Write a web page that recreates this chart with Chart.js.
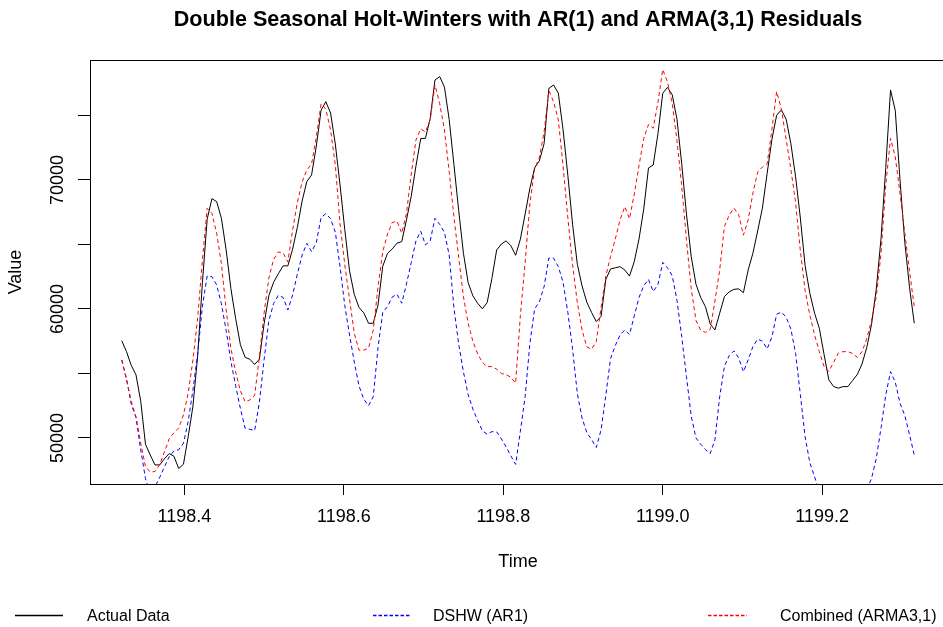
<!DOCTYPE html>
<html>
<head>
<meta charset="utf-8">
<script src="https://cdn.jsdelivr.net/npm/chart.js@4.4.1/dist/chart.umd.min.js"></script>
<style>
  html, body { margin: 0; padding: 0; background: #fff; overflow: hidden; }
  #wrap { width: 943px; height: 627px; overflow: hidden; }
</style>
</head>
<body>
<div id="wrap"><canvas id="chart" width="950" height="627"></canvas></div>
<script>
// hourly ts, frequency 168 (one week per unit), starts at hour 54 of week 1198
const startTime = 1198 + 54 / 168;
const freq = 168;

const actual = [
  57540, 56690, 55630, 54890, 52840, 49510, 48680, 47910, 47910, 48390, 48790, 48580,
  47630, 47960, 50100, 52450, 56380, 62050, 66960, 68550, 68320, 67030, 64580, 61570,
  59260, 57230, 56250, 56100, 55700, 56100, 58860, 61050, 62070, 62730, 63340, 63340,
  64630, 66320, 68360, 69870, 70390, 72620, 75400, 76070, 75190, 72790, 69610, 66150,
  62950, 61120, 60110, 59700, 58890, 58890, 60300, 63320, 64310, 64650, 65100, 65220,
  66900, 68740, 71090, 73210, 73230, 74770, 77750, 78020, 77200, 74680, 71180, 67640,
  64320, 62030, 61010, 60440, 60010, 60490, 62360, 64570, 65030, 65280, 64900, 64160,
  65410, 67350, 69350, 70930, 71480, 72820, 77100, 77360, 76720, 73880, 70370, 66570,
  63470, 61780, 60530, 59730, 59020, 59420, 62280, 63100, 63190, 63280, 63020, 62550,
  63670, 65420, 67760, 70930, 71160, 73600, 76720, 77180, 76610, 74700, 71250, 67370,
  64060, 61920, 60890, 60170, 58840, 58370, 59670, 60960, 61330, 61520, 61560, 61260,
  63020, 64320, 66040, 67820, 70510, 73130, 75020, 75430, 74720, 72820, 70240, 67050,
  63360, 61210, 59670, 58490, 56470, 54500, 53990, 53860, 53980, 53980, 54450, 54920,
  55740, 57020, 58800, 61550, 65460, 70970, 76980, 75390, 70000, 65210, 61690, 58890
];

const dshwAr1 = [
  56050, 54570, 52620, 51590, 49070, 46860, 45700, 46200, 46950, 47760, 48550, 49000,
  49090, 49590, 51280, 53720, 56530, 60220, 62560, 62500, 61860, 60400, 58340, 55930,
  54060, 52280, 50750, 50670, 50570, 52760, 56080, 59100, 60420, 61060, 60890, 59920,
  61070, 62690, 64170, 65090, 64440, 65150, 67080, 67390, 67000, 65960, 63280, 60260,
  57990, 55890, 54030, 53010, 52500, 53200, 57000, 59740, 60180, 60930, 61140, 60440,
  61940, 63600, 65280, 66020, 64970, 65270, 67030, 66560, 65930, 64180, 60080, 57270,
  55120, 53350, 52230, 51350, 50560, 50290, 50490, 50470, 49920, 49310, 48600, 47950,
  50520, 53200, 57310, 60000, 60550, 61730, 63950, 63940, 63280, 62070, 59740, 56890,
  53440, 51550, 50410, 49880, 49260, 50620, 53300, 56150, 57160, 57980, 58370, 58020,
  59460, 60890, 61800, 62290, 61350, 61920, 63610, 63190, 62580, 60670, 57850, 54750,
  51700, 50000, 49510, 49100, 48790, 49850, 53200, 55550, 56380, 56750, 56200, 55130,
  56050, 57080, 57670, 57500, 56900, 57820, 59590, 59760, 59360, 58440, 56560, 53350,
  50100, 48080, 46990, 45800, 45100, 44500, 44100, 43900, 43800, 43900, 44200, 44700,
  45300, 46000, 46870, 48410, 50790, 53330, 55140, 54330, 52690, 51750, 50260, 48680
];

const combined = [
  56050, 54540, 52850, 51630, 49590, 47780, 47350, 47400, 47940, 48920, 49940, 50400,
  50770, 51780, 53470, 56050, 59300, 63800, 67800, 67420, 65870, 63510, 59930, 56950,
  55120, 53640, 52810, 52950, 53300, 56250, 59710, 62400, 63850, 64420, 64340, 63650,
  66100, 68240, 69850, 70770, 71240, 73320, 75900, 75490, 73880, 71180, 66600, 63430,
  60760, 58110, 56800, 56810, 56960, 58370, 61700, 64450, 65800, 66700, 66800, 65870,
  67420, 70440, 73100, 73950, 73720, 74670, 77360, 75920, 73880, 70640, 67140, 64010,
  60950, 58890, 57480, 56510, 55860, 55530, 55530, 55340, 55000, 54910, 54700, 54250,
  59500, 63570, 68160, 70850, 71750, 73710, 76930, 76060, 74650, 71090, 67070, 63430,
  60500, 58360, 57060, 56880, 57480, 60070, 62550, 64060, 65420, 66900, 67930, 66990,
  68890, 71110, 73230, 74300, 74010, 76050, 78560, 77600, 75940, 73050, 69530, 65350,
  61580, 59110, 58360, 58180, 58410, 60620, 63020, 66400, 67270, 67820, 67310, 65720,
  66900, 68970, 70610, 71000, 71250, 73910, 76850, 75500, 73170, 70830, 68230, 64500,
  61420, 59520, 57980, 56690, 55530, 55160, 55870, 56580, 56690, 56690, 56550, 56250,
  56690, 57710, 59110, 60950, 64310, 69610, 73230, 71790, 68970, 65910, 62920, 60200
];

const xTicks = [1198.4, 1198.6, 1198.8, 1199.0, 1199.2];
const yTicks = [50000, 55000, 60000, 65000, 70000, 75000];
const yLabelled = [50000, 60000, 70000];
const legendLabels = ["Actual Data", "DSHW (AR1)", "Combined (ARMA3,1)"];
const titleText = "Double Seasonal Holt-Winters with AR(1) and ARMA(3,1) Residuals";

const times = actual.map((_, i) => startTime + i / freq);
const toPoints = (vals) => vals.map((v, i) => ({ x: times[i], y: v }));

const FONT = "'Liberation Sans', Arial, sans-serif";
const DASH = [4, 3];

// R style decorations: box, title, axis titles, rotated y labels, bottom legend
const rDecor = {
  id: "rDecor",
  afterDraw(chart) {
    const { ctx, chartArea: a, scales } = chart;
    ctx.save();
    ctx.strokeStyle = "#000";
    ctx.lineWidth = 1;
    ctx.strokeRect(a.left + 0.5, a.top + 0.5, a.right - a.left, a.bottom - a.top);

    ctx.fillStyle = "#000";
    ctx.textAlign = "center";
    ctx.textBaseline = "alphabetic";
    ctx.font = "bold 21.6px " + FONT;
    ctx.fillText(titleText, (a.left + a.right) / 2, 26);

    ctx.font = "18px " + FONT;
    ctx.fillText("Time", (a.left + a.right) / 2, 567);

    yLabelled.forEach((v) => {
      const y = scales.y.getPixelForValue(v);
      ctx.save();
      ctx.translate(63, y);
      ctx.rotate(-Math.PI / 2);
      ctx.fillText(String(v), 0, 0);
      ctx.restore();
    });
    ctx.save();
    ctx.translate(21, (a.top + a.bottom) / 2);
    ctx.rotate(-Math.PI / 2);
    ctx.fillText("Value", 0, 0);
    ctx.restore();

    // legend
    const items = [
      { x0: 15, x1: 63, tx: 87, color: "#000000", dash: [] },
      { x0: 373, x1: 411, tx: 433, color: "#0000FF", dash: [3.5, 2] },
      { x0: 708, x1: 747, tx: 780, color: "#FF0000", dash: [3.5, 2] },
    ];
    const ly = 615;
    ctx.textAlign = "left";
    ctx.font = "16px " + FONT;
    items.forEach((it, k) => {
      ctx.beginPath();
      ctx.setLineDash(it.dash);
      ctx.strokeStyle = it.color;
      ctx.lineWidth = 1.3;
      ctx.moveTo(it.x0, ly + 0.5);
      ctx.lineTo(it.x1, ly + 0.5);
      ctx.stroke();
      ctx.setLineDash([]);
      ctx.fillText(legendLabels[k], it.tx, ly + 6);
    });
    ctx.restore();
  },
};

new Chart(document.getElementById("chart"), {
  type: "line",
  data: {
    datasets: [
      { label: legendLabels[0], data: toPoints(actual), borderColor: "#000000", borderWidth: 1, order: 3 },
      { label: legendLabels[1], data: toPoints(dshwAr1), borderColor: "#0000FF", borderWidth: 1, borderDash: DASH, order: 2 },
      { label: legendLabels[2], data: toPoints(combined), borderColor: "#FF0000", borderWidth: 1, borderDash: DASH, order: 1 },
    ],
  },
  options: {
    responsive: false,
    animation: false,
    elements: { point: { radius: 0 }, line: { tension: 0 } },
    layout: { padding: { top: 60, left: 0, right: 4, bottom: 0 } },
    plugins: {
      legend: { display: false },
      title: { display: false },
      tooltip: { enabled: false },
    },
    scales: {
      x: {
        type: "linear",
        min: 1198.2816,
        max: 1199.3553,
        afterBuildTicks: (s) => { s.ticks = xTicks.map((v) => ({ value: v })); },
        afterFit: (s) => { s.height = 143; },
        grid: { drawOnChartArea: false, tickLength: 11, tickColor: "#000" },
        border: { display: false },
        ticks: {
          color: "#000",
          font: { family: FONT, size: 18 },
          padding: 11,
          maxRotation: 0,
          callback: (v) => Number(v).toFixed(1),
        },
      },
      y: {
        min: 46430,
        max: 79300,
        afterBuildTicks: (s) => { s.ticks = yTicks.map((v) => ({ value: v })); },
        afterFit: (s) => { s.width = 90; },
        grid: { drawOnChartArea: false, tickLength: 12, tickColor: "#000" },
        border: { display: false },
        ticks: { display: false },
      },
    },
  },
  plugins: [rDecor],
});
</script>
</body>
</html>
